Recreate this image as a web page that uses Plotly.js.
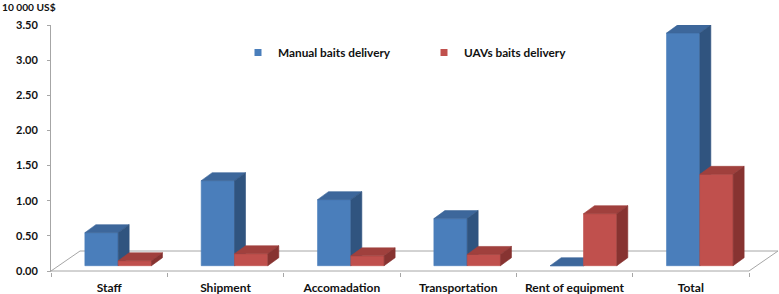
<!DOCTYPE html>
<html>
<head>
<meta charset="utf-8">
<script src="https://cdn.plot.ly/plotly-3.0.1.min.js"></script>
<style>html,body{margin:0;padding:0;background:#fff;}#chart{width:779px;height:294px;}</style>
</head>
<body>
<div id="chart"></div>
<script>
// ---- data ----
const categories = ['Staff', 'Shipment', 'Accomadation', 'Transportation', 'Rent of equipment', 'Total'];
const manualDelivery = [0.47, 1.21, 0.94, 0.67, 0.00, 3.31];
const uavDelivery = [0.07, 0.17, 0.14, 0.16, 0.74, 1.30];
const seriesNames = ['Manual baits delivery', 'UAVs baits delivery'];
const yTickValues = [0, 0.5, 1, 1.5, 2, 2.5, 3, 3.5];
const yTickLabels = ['0.00', '0.50', '1.00', '1.50', '2.00', '2.50', '3.00', '3.50'];
const yUnitLabel = '10 000 US$';

// ---- styling / geometry (pixel sizes converted to axis units) ----
const W = 779, H = 294;
const M = {l: 51, r: 0, t: 25, b: 22, autoexpand: false};
const plotW = W - M.l - M.r, plotH = H - M.t - M.b;
const pxPerCat = 116.333;
const xRange = [-0.5, -0.5 + plotW / pxPerCat];
const yMin = -0.0142, yMax = 3.5;
const pxPerUnit = plotH / (yMax - yMin);
const barW = 33.3 / pxPerCat;
const shift = 9 / pxPerCat;
const baseY = 5.3 / pxPerUnit;
const dX = 11 / pxPerCat, dY = 8 / pxPerUnit;
const floorDX = 29 / pxPerCat, floorDY = 20 / pxPerUnit;

const colors = [
  {front: '#4A7EBB', top: '#3D679B', side: '#30547F'},
  {front: '#C0504D', top: '#A0403D', side: '#873331'}
];
const gray = '#A6A6A6';
const font = 'Lato, "Open Sans", "DejaVu Sans", sans-serif';

function faces(values, s) {
  const f = {front: {x: [], y: []}, top: {x: [], y: []}, side: {x: [], y: []}};
  values.forEach((v, i) => {
    const l = i + shift - barW + s * barW, r = l + barW;
    const b = baseY, t = baseY + v;
    const add = (o, pts) => { pts.forEach(p => { o.x.push(p[0]); o.y.push(p[1]); }); o.x.push(null); o.y.push(null); };
    add(f.front, [[l, b], [r, b], [r, t], [l, t], [l, b]]);
    add(f.top, [[l, t], [r, t], [r + dX, t + dY], [l + dX, t + dY], [l, t]]);
    add(f.side, [[r, b], [r + dX, b + dY], [r + dX, t + dY], [r, t], [r, b]]);
  });
  return f;
}

const traces = [];
// floor outline
const n = categories.length;
traces.push({
  x: [-0.5, n - 0.5, n - 0.5 + floorDX, -0.5 + floorDX, -0.5],
  y: [0, 0, floorDY, floorDY, 0],
  mode: 'lines', line: {color: gray, width: 1}, hoverinfo: 'skip', showlegend: false, xaxis: 'x', yaxis: 'y'
});
[manualDelivery, uavDelivery].forEach((vals, s) => {
  const f = faces(vals, s);
  ['front', 'top', 'side'].forEach(k => {
    traces.push({
      x: f[k].x, y: f[k].y, mode: 'lines', fill: 'toself', fillcolor: colors[s][k],
      line: {color: colors[s][k], width: 0.6}, hoverinfo: 'skip', showlegend: false,
      name: seriesNames[s], xaxis: 'x', yaxis: 'y'
    });
  });
});
// legend entries
seriesNames.forEach((nm, s) => {
  traces.push({
    x: [null], y: [null], mode: 'markers', name: nm,
    marker: {symbol: 'square', size: 7, color: colors[s].front}, showlegend: true
  });
});
// category boundary ticks on second x axis
traces.push({x: [null], y: [null], xaxis: 'x2', yaxis: 'y', mode: 'markers', showlegend: false, hoverinfo: 'skip'});

const boundaries = categories.map((c, i) => i - 0.5).concat([n - 0.5]);

const layout = {
  width: W, height: H, margin: M,
  paper_bgcolor: '#ffffff', plot_bgcolor: 'rgba(0,0,0,0)',
  font: {family: font, color: '#1a1a1a'},
  showlegend: true,
  legend: {
    orientation: 'h', xref: 'container', yref: 'container',
    x: 238 / W, y: 1 - 38 / H, xanchor: 'left', yanchor: 'top',
    font: {family: font, size: 11.8, color: '#111', weight: 'bold'},
    entrywidth: 141, entrywidthmode: 'pixels', itemwidth: 30, bgcolor: 'rgba(0,0,0,0)'
  },
  xaxis: {
    range: xRange, tickmode: 'array', tickvals: categories.map((c, i) => i), ticktext: categories,
    ticks: '', showline: false, showgrid: false, zeroline: false, fixedrange: true,
    tickfont: {family: font, size: 12, color: '#111', weight: 'bold'}, ticklabelstandoff: 7
  },
  xaxis2: {
    overlaying: 'x', anchor: 'y', side: 'bottom', range: xRange, tickmode: 'array', tickvals: boundaries,
    ticks: 'outside', ticklen: 4, tickcolor: gray, tickwidth: 1, showticklabels: false,
    showline: false, showgrid: false, zeroline: false
  },
  yaxis: {
    range: [yMin, yMax], tickmode: 'array', tickvals: yTickValues, ticktext: yTickLabels,
    ticks: 'outside', ticklen: 3, tickcolor: gray, showline: true, linecolor: gray, linewidth: 1,
    showgrid: false, zeroline: false, fixedrange: true,
    tickfont: {family: font, size: 11, color: '#111', weight: 'bold'}, ticklabelstandoff: 7
  },
  annotations: [{
    text: yUnitLabel, xref: 'paper', yref: 'paper', x: -M.l / plotW, y: 1 + 18 / plotH,
    xanchor: 'left', yanchor: 'middle', showarrow: false,
    font: {family: font, size: 10.2, color: '#111', weight: 'bold'}
  }]
};

Plotly.newPlot('chart', traces, layout, {staticPlot: true});
</script>
</body>
</html>
